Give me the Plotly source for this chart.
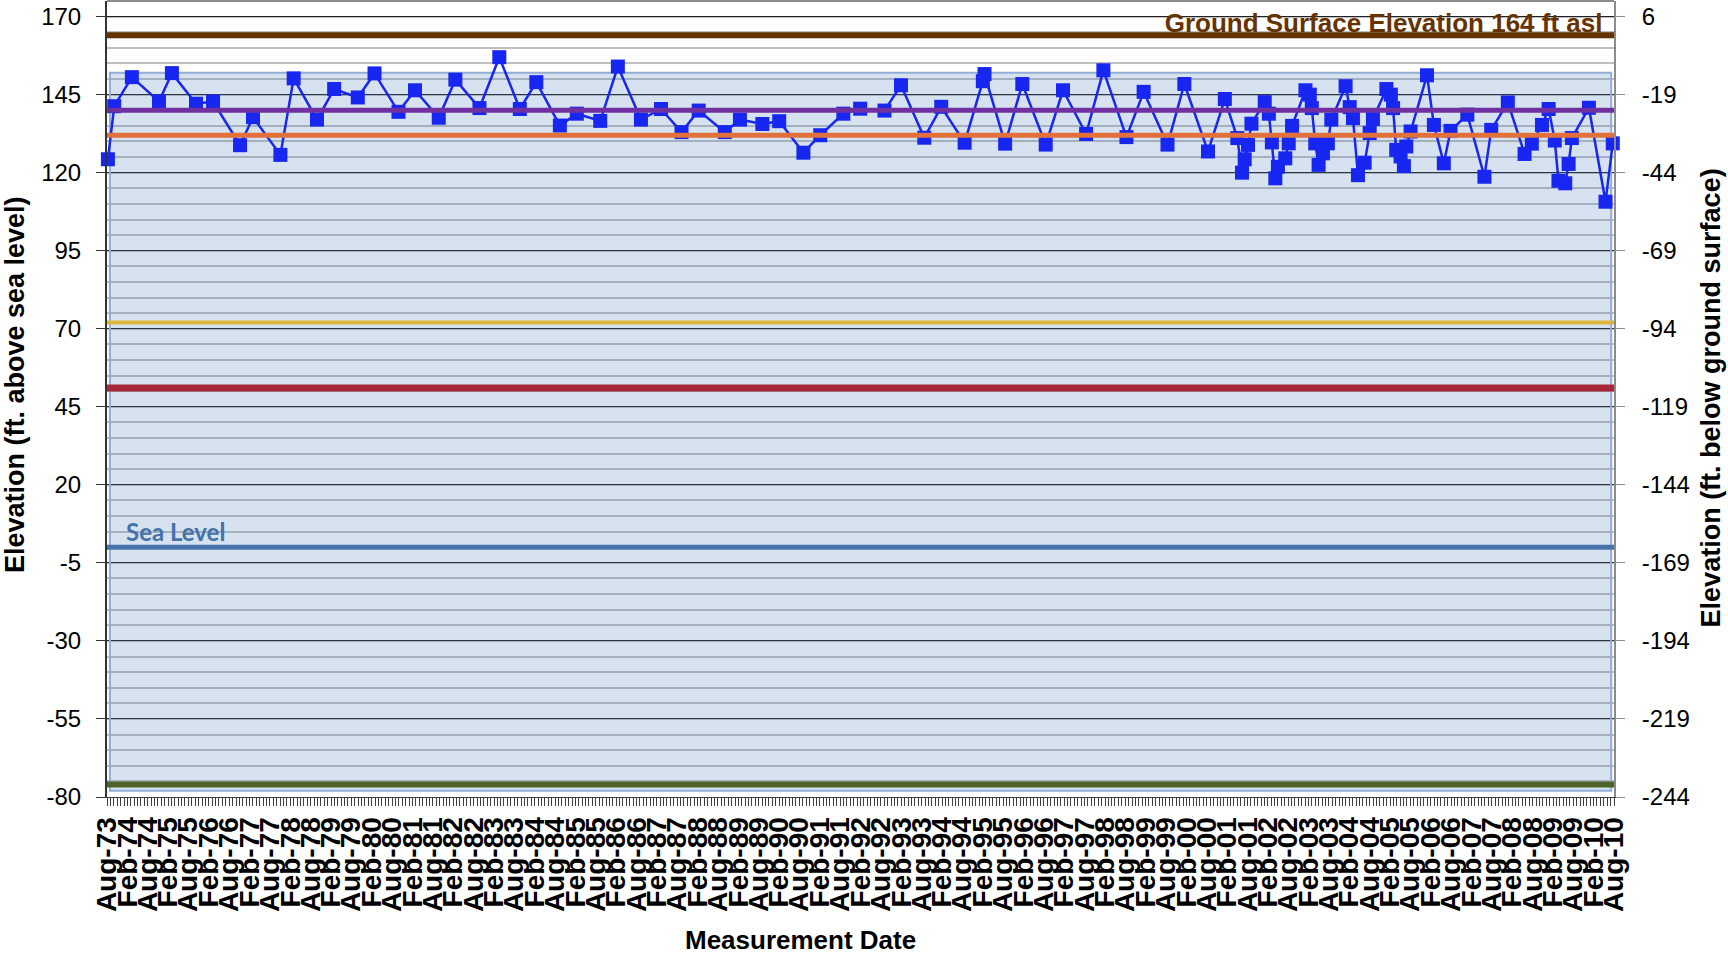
import plotly.graph_objects as go

# ---------------- data ----------------
dates = [
    "1973-08-09", "1973-10-05", "1974-03-12", "1974-11-10", "1975-03-06", "1975-10-08", "1976-03-09", "1976-11-06", "1977-03-02", "1977-11-03",
    "1978-03-02", "1978-09-27", "1979-02-28", "1979-09-28", "1980-02-25", "1980-09-27", "1981-02-22", "1981-09-23", "1982-02-19", "1982-09-23",
    "1983-03-20", "1983-09-20", "1984-02-15", "1984-09-13", "1985-02-12", "1985-09-10", "1986-02-15", "1986-09-10", "1987-03-09", "1987-09-09",
    "1988-02-10", "1988-10-01", "1989-02-14", "1989-09-03", "1990-02-01", "1990-09-06", "1991-02-04", "1991-08-30", "1992-01-28", "1992-09-02",
    "1993-01-28", "1993-08-25", "1994-01-24", "1994-08-22", "1995-02-01", "1995-02-16", "1995-08-20", "1996-01-21", "1996-08-18", "1997-01-20",
    "1997-08-15", "1998-01-17", "1998-08-12", "1999-01-13", "1999-08-15", "2000-01-13", "2000-08-12", "2001-01-10", "2001-05-02", "2001-06-13",
    "2001-07-07", "2001-08-06", "2001-09-06", "2002-01-03", "2002-02-09", "2002-03-08", "2002-04-08", "2002-05-01", "2002-07-06", "2002-08-06",
    "2002-09-05", "2003-01-03", "2003-02-11", "2003-03-01", "2003-04-01", "2003-05-01", "2003-06-09", "2003-07-23", "2003-08-23", "2003-12-29",
    "2004-02-04", "2004-03-04", "2004-04-18", "2004-06-17", "2004-08-01", "2004-08-30", "2004-12-29", "2005-02-07", "2005-02-27", "2005-03-27",
    "2005-05-05", "2005-06-04", "2005-06-25", "2005-08-03", "2005-12-28", "2006-02-28", "2006-05-28", "2006-07-27", "2006-12-25", "2007-05-27",
    "2007-07-27", "2007-12-23", "2008-05-21", "2008-07-25", "2008-10-24", "2008-12-23", "2009-02-16", "2009-03-21", "2009-05-21", "2009-06-20",
    "2009-07-19", "2009-12-19", "2010-05-17", "2010-07-21",
]

elevation = [
    124.3, 141.3, 150.6, 142.8, 151.9, 142.1, 142.8, 128.8, 137.8, 125.7,
    150.2, 137.0, 146.8, 144.1, 151.8, 139.5, 146.4, 137.6, 149.8, 140.7,
    157.0, 140.4, 149.0, 135.1, 138.9, 136.6, 154.0, 137.0, 140.4, 133.0,
    139.9, 133.0, 137.0, 135.6, 136.5, 126.4, 132.0, 138.9, 140.5, 139.9,
    148.0, 131.2, 141.1, 129.6, 149.3, 151.6, 129.3, 148.4, 129.0, 146.4,
    132.4, 152.8, 131.4, 145.9, 129.0, 148.4, 126.8, 143.6, 131.1, 120.0,
    124.3, 128.9, 135.7, 142.6, 138.9, 129.7, 118.2, 121.9, 124.6, 129.4,
    135.0, 146.4, 145.0, 140.7, 129.4, 122.5, 126.2, 129.4, 137.0, 147.7,
    141.0, 137.5, 119.2, 123.2, 132.7, 137.2, 146.8, 145.0, 140.7, 127.3,
    125.2, 122.1, 128.4, 133.2, 151.2, 135.3, 123.0, 133.4, 138.6, 118.7,
    133.7, 142.5, 126.0, 129.3, 135.3, 140.4, 130.3, 117.4, 116.6, 122.8,
    131.1, 140.8, 110.7, 129.4,
]

ground_surface = 164          # ft asl
sea_level = 0
ref_levels = [140, 132, 72, 51, -76]           # purple, orange, gold, red, olive
band_top, band_bottom = 152, -78
band_start, band_end = "1973-08-27", "2010-07-07"

x_range = ["1973-08-01", "2010-08-01"]
y_range = [-80, 175]
left_ticks = [-80, -55, -30, -5, 20, 45, 70, 95, 120, 145, 170]
right_ticks = [v - ground_surface for v in left_ticks]

# ---------------- styles ----------------
FONT = "Liberation Sans, Arial, sans-serif"
BLUE = "#1726F0"
ref_colors = ["#7030A0", "#E2703A", "#DDB53C", "#A6283A", "#4F6228"]
ref_widths = [5, 5, 4, 7, 6]

fig = go.Figure()

# data series
fig.add_trace(go.Scatter(
    x=dates, y=elevation, mode="lines+markers",
    line=dict(color=BLUE, width=2.5),
    marker=dict(symbol="square", size=14, color=BLUE),
    cliponaxis=False, showlegend=False, hoverinfo="x+y",
))

# same series as depth below ground surface (drives the right-hand axis)
fig.add_trace(go.Scatter(
    x=dates, y=[v - ground_surface for v in elevation], yaxis="y2",
    mode="lines", line=dict(width=0), opacity=0, showlegend=False, hoverinfo="skip",
))

# ground surface label (as a trace so the line can sit over it)
fig.add_trace(go.Scatter(
    x=["2010-04-20"], y=[167.2], mode="text",
    text=[f"Ground Surface Elevation {ground_surface} ft asl"],
    textposition="middle left",
    textfont=dict(family=FONT, size=26, color="#663300", weight="bold"),
    showlegend=False, hoverinfo="skip",
))

shapes = []
# shaded band
shapes.append(dict(type="rect", xref="x", yref="y", x0=band_start, x1=band_end,
                   y0=band_bottom, y1=band_top,
                   fillcolor="rgba(79,129,189,0.23)",
                   line=dict(color="#93AED3", width=2), layer="between"))
# reference lines
for lvl, col, w in zip(ref_levels, ref_colors, ref_widths):
    shapes.append(dict(type="line", xref="paper", yref="y", x0=0, x1=1, y0=lvl, y1=lvl,
                       line=dict(color=col, width=w), layer="above"))
shapes.append(dict(type="line", xref="paper", yref="y", x0=0, x1=1, y0=sea_level, y1=sea_level,
                   line=dict(color="#4673AA", width=5), layer="above"))
shapes.append(dict(type="line", xref="paper", yref="y", x0=0, x1=1, y0=ground_surface, y1=ground_surface,
                   line=dict(color="#663300", width=6), layer="above"))
# top frame
shapes.append(dict(type="line", xref="paper", yref="paper", x0=0, x1=1, y0=1, y1=1,
                   line=dict(color="#8C8C8C", width=2), layer="above"))

annotations = [
    dict(text="Sea Level", xref="paper", yref="y", x=0.011, y=5, xanchor="left", yanchor="middle",
         showarrow=False, font=dict(family="Lato, Carlito, sans-serif", size=24, color="#4472A8", weight="bold")),
    dict(text="Elevation (ft. above sea level)", xref="paper", yref="paper", x=-0.061, y=0.5176,
         xanchor="center", yanchor="middle", textangle=-90, showarrow=False,
         font=dict(family=FONT, size=27, color="black", weight="bold")),
    dict(text="Elevation (ft. below ground surface)", xref="paper", yref="paper", x=1.0645, y=0.501,
         xanchor="center", yanchor="middle", textangle=-90, showarrow=False,
         font=dict(family=FONT, size=27, color="black", weight="bold")),
    dict(text="Measurement Date", xref="paper", yref="paper", x=0.4604, y=-0.1797,
         xanchor="center", yanchor="middle", showarrow=False,
         font=dict(family=FONT, size=26, color="black", weight="bold")),
]

fig.update_layout(
    width=1728, height=955,
    margin=dict(l=107, r=113.5, t=1, b=158, pad=0),
    paper_bgcolor="white", plot_bgcolor="white",
    showlegend=False,
    shapes=shapes, annotations=annotations,
    xaxis=dict(
        type="date", range=x_range, tick0="1973-08-01", dtick="M6", tickformat="%b-%y",
        tickangle=-90, tickfont=dict(family=FONT, size=28, color="black", weight="bold"),
        ticks="outside", ticklen=8, tickcolor="#404040", tickwidth=1,
        minor=dict(dtick="M1", ticks="outside", ticklen=8, tickcolor="#404040", tickwidth=1, showgrid=False),
        showgrid=False, zeroline=False, showline=True, linecolor="#404040", linewidth=1,
    ),
    yaxis=dict(
        range=y_range, tickmode="array", tickvals=left_ticks, ticktext=[str(v) for v in left_ticks],
        tickfont=dict(family=FONT, size=24, color="black"),
        ticks="outside", ticklen=9, tickcolor="#333333", ticklabelstandoff=10,
        showgrid=True, gridcolor="#222222", gridwidth=1,
        minor=dict(tick0=-80, dtick=5, showgrid=True, gridcolor="#BFBFBF", gridwidth=2),
        zeroline=False, showline=True, linecolor="#333333", linewidth=2,
    ),
    yaxis2=dict(
        overlaying="y", side="right",
        range=[y_range[0] - ground_surface, y_range[1] - ground_surface],
        tickmode="array", tickvals=right_ticks, ticktext=[str(v) for v in right_ticks],
        tickfont=dict(family=FONT, size=24, color="black"),
        ticks="outside", ticklen=9, tickcolor="#8C8C8C", ticklabelstandoff=12,
        showgrid=False, zeroline=False, showline=True, linecolor="#8C8C8C", linewidth=2,
    ),
)

fig.write_html("out.html", config={"displayModeBar": False},
               post_script="document.body.style.margin='0';document.body.style.overflow='hidden';")
